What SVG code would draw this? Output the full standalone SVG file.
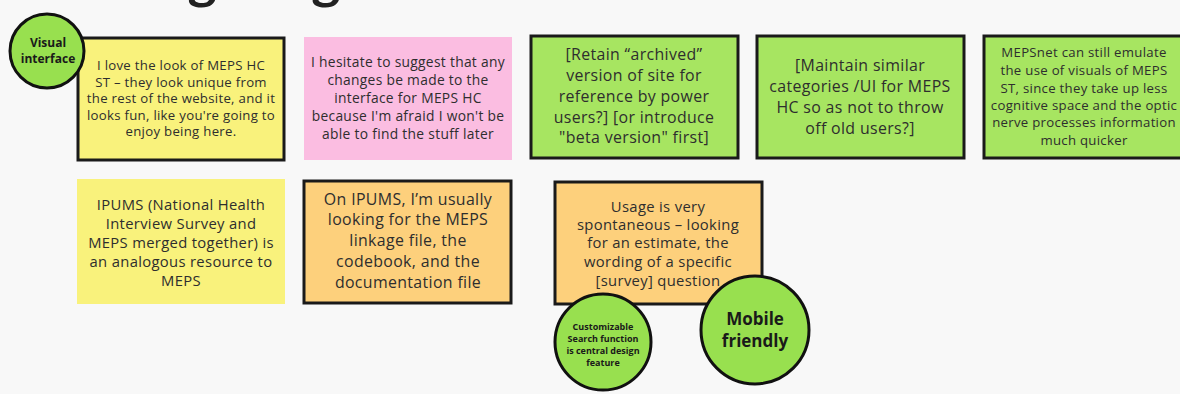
<svg xmlns="http://www.w3.org/2000/svg" width="1180" height="394" viewBox="0 0 1180 394">
<style>
.bg{fill:#f8f8f8}
.title{font-family:Lato,"Liberation Sans",sans-serif;font-weight:bold;font-size:52px;fill:#222}
.box{stroke:#1a1a1a;stroke-width:3}
.yellow{fill:#f9f27c}
.pink{fill:#fbbde1}
.green{fill:#a7e561}
.orange{fill:#fdd07c}
.circ{fill:#98e04f;stroke:#111;stroke-width:3}
.t{font-family:"Open Sans","Liberation Sans",sans-serif;fill:#2e2e2e;text-anchor:middle;letter-spacing:0.022em}
.b{font-family:"Open Sans","Liberation Sans",sans-serif;font-weight:bold;fill:#1a1a1a;text-anchor:middle}
</style>
<rect class="bg" x="0" y="0" width="1180" height="394"/>
<text class="title" x="75" y="-2" textLength="515" lengthAdjust="spacingAndGlyphs">Navigating with Ease</text>

<g id="n1">
<rect class="box yellow" x="78" y="38" width="206" height="122"/>
<text class="t" font-size="13.2"><tspan x="181" y="70">I love the look of MEPS HC</tspan><tspan x="181" y="86.5">ST – they look unique from</tspan><tspan x="181" y="103">the rest of the website, and it</tspan><tspan x="181" y="119.5">looks fun, like you're going to</tspan><tspan x="181" y="136">enjoy being here.</tspan></text>
</g>
<g id="visual">
<circle class="circ" cx="47" cy="51" r="37"/>
<text class="b" font-size="12"><tspan x="48" y="47">Visual</tspan><tspan x="48" y="63">interface</tspan></text>
</g>
<g id="n2">
<rect class="pink" x="304" y="37" width="208" height="123"/>
<text class="t" font-size="13.8"><tspan x="408" y="67">I hesitate to suggest that any</tspan><tspan x="408" y="85">changes be made to the</tspan><tspan x="408" y="103">interface for MEPS HC</tspan><tspan x="408" y="121">because I'm afraid I won't be</tspan><tspan x="408" y="139">able to find the stuff later</tspan></text>
</g>
<g id="n3">
<rect class="box green" x="531" y="36" width="207" height="122"/>
<text class="t" font-size="15.9"><tspan x="634" y="60">[Retain “archived”</tspan><tspan x="634" y="81">version of site for</tspan><tspan x="634" y="102">reference by power</tspan><tspan x="634" y="123">users?] [or introduce</tspan><tspan x="634" y="143">"beta version" first]</tspan></text>
</g>
<g id="n4">
<rect class="box green" x="757" y="36" width="207" height="122"/>
<text class="t" font-size="15.9"><tspan x="860" y="71">[Maintain similar</tspan><tspan x="860" y="92">categories /UI for MEPS</tspan><tspan x="860" y="113">HC so as not to throw</tspan><tspan x="860" y="134">off old users?]</tspan></text>
</g>
<g id="n5">
<rect class="box green" x="984" y="36" width="207" height="122"/>
<text class="t" font-size="13.2"><tspan x="1084" y="57">MEPSnet can still emulate</tspan><tspan x="1084" y="75">the use of visuals of MEPS</tspan><tspan x="1084" y="93">ST, since they take up less</tspan><tspan x="1084" y="110">cognitive space and the optic</tspan><tspan x="1084" y="127">nerve processes information</tspan><tspan x="1084" y="145">much quicker</tspan></text>
</g>
<g id="n6">
<rect class="yellow" x="77" y="179" width="208" height="125"/>
<text class="t" font-size="14.8"><tspan x="181" y="210">IPUMS (National Health</tspan><tspan x="181" y="229">Interview Survey and</tspan><tspan x="181" y="248">MEPS merged together) is</tspan><tspan x="181" y="267">an analogous resource to</tspan><tspan x="181" y="286">MEPS</tspan></text>
</g>
<g id="n7">
<rect class="box orange" x="304" y="181" width="207" height="122"/>
<text class="t" font-size="15.9"><tspan x="408" y="205">On IPUMS, I’m usually</tspan><tspan x="408" y="225">looking for the MEPS</tspan><tspan x="408" y="246">linkage file, the</tspan><tspan x="408" y="267">codebook, and the</tspan><tspan x="408" y="288">documentation file</tspan></text>
</g>
<g id="n8">
<rect class="box orange" x="555" y="182" width="207" height="122"/>
<text class="t" font-size="14.8"><tspan x="658" y="212">Usage is very</tspan><tspan x="658" y="230">spontaneous – looking</tspan><tspan x="658" y="248">for an estimate, the</tspan><tspan x="658" y="267">wording of a specific</tspan><tspan x="658" y="286">[survey] question</tspan></text>
</g>
<g id="search">
<circle class="circ" cx="603" cy="342" r="48"/>
<text class="b" font-size="9"><tspan x="603" y="330">Customizable</tspan><tspan x="603" y="342">Search function</tspan><tspan x="603" y="354">is central design</tspan><tspan x="603" y="366">feature</tspan></text>
</g>
<g id="mobile">
<circle class="circ" cx="755" cy="330" r="54"/>
<text class="b" font-size="17"><tspan x="755" y="325">Mobile</tspan><tspan x="755" y="347">friendly</tspan></text>
</g>
<g id="connectors"></g>
</svg>
